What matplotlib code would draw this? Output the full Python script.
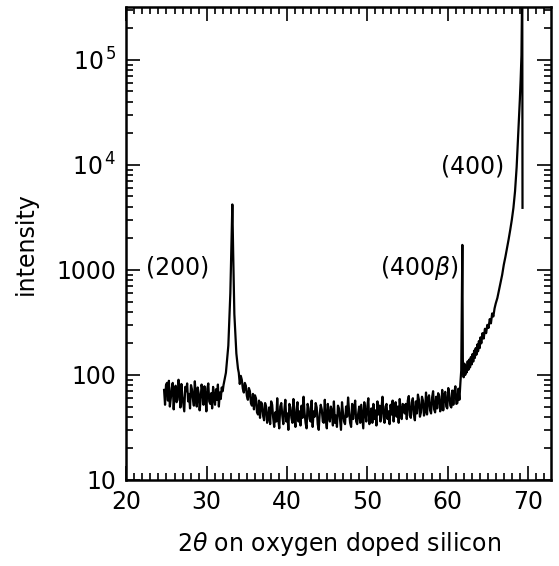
import numpy as np
import matplotlib
matplotlib.use("Agg")
import matplotlib.pyplot as plt
from matplotlib.ticker import FixedLocator, MultipleLocator, LogLocator, NullFormatter

# ---------------------------------------------------------------------------
# Data (2theta in degrees, counts)
# ---------------------------------------------------------------------------

# flat background left of the (200) reflection, 24.7 .. 32.0 deg
left_start, left_stop = 24.7, 32.0
left_counts = [
    72, 52, 80, 84, 57, 88, 50, 60, 75, 84, 47, 68, 79, 55, 58, 90,
    74, 49, 82, 63, 53, 45, 77, 70, 83, 56, 66, 48, 80, 73, 59, 51,
    87, 61, 50, 76, 67, 46, 57, 81, 71, 52, 78, 63, 45, 74, 83, 56,
    53, 67, 48, 77, 60, 52, 73, 58, 81, 50, 68, 59, 76, 70,
]

# the (200) peak
peak200_x = [32.1, 32.4, 32.7, 32.95, 33.1, 33.2, 33.3, 33.45, 33.7, 33.9]
peak200_y = [80, 105, 190, 600, 2000, 4200, 1500, 380, 160, 115]

# noisy background between the peaks, 34.0 .. 61.6 deg
mid_start, mid_stop = 34.0, 61.6
mid_counts = [
    # tail of (200)
    105, 82, 98, 90, 74, 68, 84, 79, 63, 58, 75, 70, 54, 51, 66,
    47, 64, 60, 44, 42, 57, 39, 55, 53, 41, 37, 54, 50, 35, 39,
    # flat part
    49, 34, 56, 52, 39, 32, 44, 36, 60, 38, 31, 50, 54, 41, 34,
    46, 58, 36, 43, 30, 53, 49, 39, 35, 59, 38, 32, 47, 55, 36,
    45, 33, 51, 39, 62, 44, 35, 31, 53, 48, 38, 36, 57, 32, 45,
    40, 54, 49, 34, 30, 43, 52, 47, 36, 35, 58, 38, 31, 53, 42,
    36, 50, 45, 33, 56, 35, 41, 32, 51, 48, 38, 30, 55, 43, 36,
    34, 50, 40, 61, 45, 35, 32, 53, 38, 48, 57, 36, 34, 43, 50,
    35, 52, 40, 31, 55, 45, 36, 50, 60, 34, 40, 48, 35, 53, 38,
    46, 33, 56, 42, 51, 36, 48, 62, 40, 35, 50, 53, 38, 45, 34,
    52, 42, 57, 36, 48, 55, 40, 50, 35, 59, 45, 38, 53, 51, 43,
    # slow rise towards (400)
    53, 38, 57, 63, 41, 39, 55, 60, 42, 37, 56, 43, 65, 58, 40,
    44, 62, 57, 41, 45, 68, 42, 60, 64, 46, 43, 61, 70, 47, 44,
    62, 48, 67, 63, 45, 49, 72, 46, 64, 69, 50, 48, 75, 66, 51,
    49, 71, 52, 68, 78, 53, 54, 74, 58, 85,
]

# (400 beta) line and the flank of the (400) reflection
flank_x = [61.7, 61.84, 61.9, 62.0, 62.1, 62.2, 62.3, 62.4, 62.5, 62.6,
           62.7, 62.8, 62.9, 63.0, 63.1, 63.2, 63.3, 63.4, 63.5, 63.6,
           63.7, 63.8, 63.9, 64.0, 64.1, 64.2, 64.35, 64.5, 64.65, 64.8,
           64.95, 65.1, 65.25, 65.4, 65.55, 65.7, 65.85, 66.0, 66.2, 66.4,
           66.6, 66.8, 67.0, 67.2, 67.4, 67.6, 67.8, 68.0, 68.2, 68.4,
           68.6, 68.8, 69.0, 69.1, 69.2, 69.3, 69.33]
flank_y = [110, 1730, 140, 95, 128, 100, 122, 106, 135, 112,
           140, 118, 148, 126, 158, 134, 170, 145, 180, 156,
           195, 168, 210, 180, 228, 200, 250, 222, 275, 250,
           300, 280, 340, 310, 385, 360, 430, 480, 540, 640,
           760, 900, 1120, 1330, 1600, 1950, 2400, 3000, 3900, 5600,
           9500, 20000, 42000, 65000, 110000, 600000, 3900]

x_ticks = [20, 30, 40, 50, 60, 70]
y_ticks = [10, 100, 1000, 1e4, 1e5]
y_tick_labels = ["10", "100", "1000", "10$^{\\,4}$", "10$^{\\,5}$"]

peak_labels = ["(200)", "(400$\\beta$)", "(400)"]
peak_label_pos = [(22.4, 1050), (61.4, 1050), (67.0, 9600)]

# ---------------------------------------------------------------------------
# Assemble one scan
# ---------------------------------------------------------------------------

left_x = np.linspace(left_start, left_stop, len(left_counts))
mid_x = np.linspace(mid_start, mid_stop, len(mid_counts))

two_theta = np.concatenate([left_x, peak200_x, mid_x, flank_x])
counts = np.concatenate([left_counts, peak200_y, mid_counts, flank_y])

# ---------------------------------------------------------------------------
# Plot
# ---------------------------------------------------------------------------

plt.rcParams["font.family"] = ["DejaVu Sans"]
plt.rcParams["mathtext.fontset"] = "dejavusans"

fig = plt.figure(figsize=(5.59, 5.66), dpi=100)
ax = fig.add_axes([0.226, 0.152, 0.76, 0.836])

ax.plot(two_theta, counts, color="black", linewidth=1.6)

ax.set_yscale("log")
ax.set_xlim(20, 72.9)
ax.set_ylim(10, 3.2e5)

ax.xaxis.set_major_locator(FixedLocator(x_ticks))
ax.xaxis.set_minor_locator(MultipleLocator(1))
ax.set_xticklabels([str(t) for t in x_ticks])

ax.yaxis.set_major_locator(FixedLocator(y_ticks))
ax.yaxis.set_minor_locator(LogLocator(base=10, subs=np.arange(2, 10)))
ax.yaxis.set_minor_formatter(NullFormatter())
ax.set_yticklabels(y_tick_labels)

ax.tick_params(which="both", direction="in", top=True, right=True,
               labelsize=17, width=1.2, color="black")
ax.tick_params(which="major", length=10, pad=7)
ax.tick_params(which="minor", length=5)

for spine in ax.spines.values():
    spine.set_linewidth(1.8)

ax.set_ylabel("intensity", fontsize=17, labelpad=14)
ax.set_xlabel("$2\\theta$ on oxygen doped silicon", fontsize=17, labelpad=12)

for text, (px, py) in zip(peak_labels, peak_label_pos):
    ha = "left" if text == "(200)" else "right"
    ax.text(px, py, text, fontsize=17, ha=ha, va="center")

fig.savefig("out.png", dpi=100)
